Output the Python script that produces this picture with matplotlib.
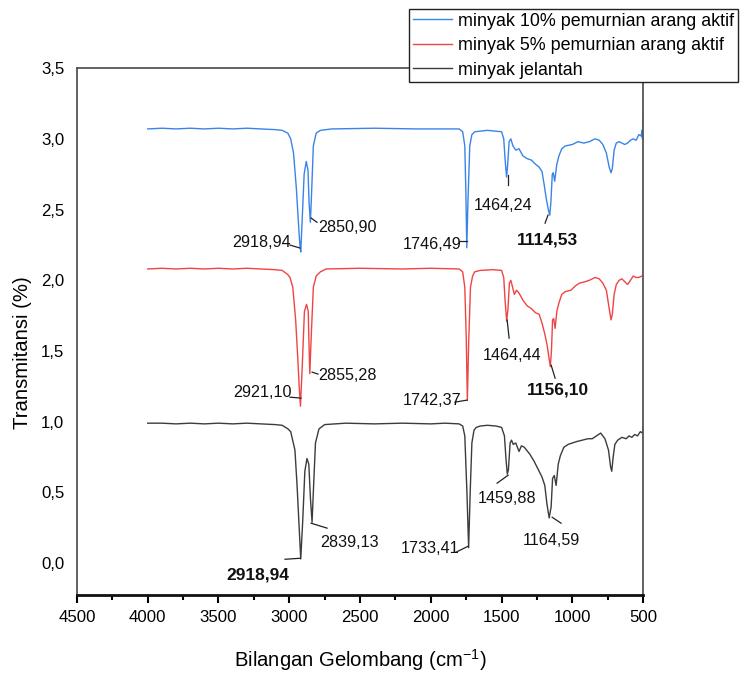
import matplotlib
matplotlib.use("Agg")
import matplotlib.pyplot as plt
from matplotlib import font_manager
from matplotlib.ticker import MultipleLocator, FuncFormatter

# pick a narrow Arial-like font if present
names = {f.name for f in font_manager.fontManager.ttflist}
if "Liberation Sans Narrow" in names:
    FONT = "Liberation Sans Narrow"
    k = 1.0
else:
    FONT = "Liberation Sans"
    k = 0.86
plt.rcParams["font.family"] = [FONT, "DejaVu Sans"]
plt.rcParams["mathtext.fontset"] = "custom"
plt.rcParams["mathtext.rm"] = FONT

# spectra (wavenumber cm-1, transmitance offset)
wn_jelantah = [4000, 3900, 3800, 3700, 3600, 3500, 3400, 3300, 3200, 3100, 3050, 3010,
               2990, 2960, 2945, 2930, 2919, 2905, 2890, 2875, 2862, 2850, 2839, 2828,
               2815, 2790, 2750, 2600, 2400, 2200, 2000, 1900, 1800, 1775, 1760, 1745,
               1733, 1722, 1710, 1695, 1680, 1650, 1600, 1540, 1500, 1480, 1470, 1460,
               1452, 1440, 1430, 1418, 1400, 1377, 1360, 1340, 1300, 1270, 1240, 1215,
               1195, 1180, 1164, 1150, 1140, 1128, 1115, 1100, 1085, 1060, 1030, 1000,
               970, 930, 890, 860, 830, 800, 770, 745, 730, 722, 712, 700, 680, 650,
               620, 600, 580, 560, 540, 520, 505, 500]
t_jelantah = [0.99, 0.99, 0.985, 0.99, 0.985, 0.99, 0.985, 0.99, 0.985, 0.98, 0.975, 0.95,
              0.93, 0.80, 0.55, 0.25, 0.03, 0.30, 0.65, 0.74, 0.70, 0.45, 0.29, 0.55,
              0.85, 0.95, 0.98, 0.99, 0.985, 0.99, 0.985, 0.99, 0.985, 0.97, 0.90, 0.50,
              0.11, 0.50, 0.85, 0.94, 0.96, 0.97, 0.975, 0.97, 0.96, 0.90, 0.75, 0.63,
              0.66, 0.85, 0.87, 0.84, 0.85, 0.79, 0.83, 0.82, 0.77, 0.72, 0.66, 0.61,
              0.55, 0.42, 0.32, 0.40, 0.60, 0.62, 0.55, 0.70, 0.76, 0.82, 0.84, 0.85,
              0.86, 0.87, 0.88, 0.88, 0.90, 0.92, 0.88, 0.80, 0.68, 0.65, 0.75, 0.84,
              0.87, 0.89, 0.88, 0.90, 0.89, 0.91, 0.90, 0.93, 0.92, 0.97]

wn_5 = [4000, 3900, 3800, 3700, 3600, 3500, 3400, 3300, 3200, 3100, 3050, 3010, 2995,
        2975, 2955, 2940, 2930, 2921, 2908, 2893, 2878, 2866, 2862, 2855, 2845, 2830,
        2810, 2780, 2740, 2500, 2200, 2000, 1800, 1775, 1760, 1750, 1742, 1733, 1720,
        1705, 1690, 1650, 1560, 1500, 1485, 1475, 1464, 1455, 1445, 1435, 1422, 1410,
        1395, 1377, 1350, 1320, 1290, 1260, 1235, 1215, 1195, 1180, 1165, 1156, 1148,
        1140, 1132, 1122, 1110, 1095, 1075, 1050, 1010, 980, 950, 910, 880, 840, 810,
        785, 760, 740, 727, 718, 705, 690, 670, 650, 630, 610, 590, 570, 550, 530, 510,
        500]
t_5 = [2.08, 2.085, 2.08, 2.085, 2.08, 2.085, 2.08, 2.085, 2.08, 2.075, 2.07, 2.04, 2.02,
       1.95, 1.72, 1.45, 1.25, 1.11, 1.40, 1.78, 1.83, 1.78, 1.60, 1.34, 1.60, 1.95,
       2.03, 2.06, 2.08, 2.085, 2.08, 2.085, 2.08, 2.06, 1.95, 1.60, 1.15, 1.55, 1.95,
       2.03, 2.06, 2.07, 2.075, 2.07, 2.02, 1.85, 1.71, 1.80, 1.98, 2.00, 1.95, 1.90,
       1.93, 1.91, 1.86, 1.82, 1.80, 1.77, 1.76, 1.70, 1.62, 1.55, 1.45, 1.39, 1.50,
       1.72, 1.73, 1.66, 1.78, 1.84, 1.90, 1.92, 1.93, 1.96, 1.98, 1.99, 2.00, 2.02, 2.01,
       1.98, 1.93, 1.80, 1.72, 1.76, 1.90, 1.97, 2.00, 2.01, 1.99, 1.97, 2.00, 2.03, 2.02,
       2.02, 2.03, 2.03]

wn_10 = [4000, 3900, 3800, 3700, 3600, 3500, 3400, 3300, 3200, 3100, 3050, 3010, 2990,
         2970, 2950, 2935, 2925, 2919, 2910, 2895, 2880, 2868, 2860, 2851, 2843, 2830,
         2810, 2780, 2700, 2400, 2100, 1800, 1775, 1760, 1752, 1746, 1738, 1725, 1710,
         1690, 1600, 1500, 1485, 1475, 1465, 1457, 1447, 1435, 1420, 1400, 1377, 1350,
         1320, 1290, 1260, 1235, 1215, 1200, 1185, 1170, 1160, 1152, 1142, 1135, 1125,
         1110, 1095, 1075, 1050, 1000, 960, 920, 880, 840, 810, 785, 760, 740, 727, 718,
         705, 690, 670, 650, 630, 610, 590, 570, 550, 530, 515, 508, 505, 502, 500]
t_10 = [3.07, 3.075, 3.07, 3.075, 3.07, 3.075, 3.07, 3.075, 3.07, 3.065, 3.06, 3.04, 3.00,
        2.90, 2.65, 2.40, 2.25, 2.20, 2.40, 2.75, 2.84, 2.78, 2.55, 2.41, 2.60, 2.95,
        3.04, 3.06, 3.07, 3.075, 3.07, 3.07, 3.05, 2.95, 2.60, 2.23, 2.55, 2.95, 3.03,
        3.05, 3.06, 3.05, 3.00, 2.85, 2.73, 2.82, 2.98, 3.00, 2.95, 2.92, 2.93, 2.88,
        2.86, 2.85, 2.82, 2.80, 2.77, 2.68, 2.58, 2.50, 2.46, 2.55, 2.75, 2.76, 2.70,
        2.82, 2.88, 2.93, 2.95, 2.96, 2.98, 2.97, 2.98, 3.00, 2.99, 2.96, 2.90, 2.80,
        2.76, 2.79, 2.92, 2.97, 2.98, 2.97, 2.96, 2.97, 2.99, 3.00, 2.99, 3.03, 3.02,
        3.06, 3.00, 3.10, 3.17]

series_labels = ["minyak 10% pemurnian arang aktif", "minyak 5% pemurnian arang aktif",
                 "minyak jelantah"]
colors = ["#3a84e8", "#f04444", "#3c3c3c"]

# peak labels: (text, text position, leader start, leader end, big)
peaks = [
    ("2918,94", (3193, 2.27), (2995, 2.249), (2924, 2.228), False),
    ("2850,90", (2592, 2.376), (2846, 2.44), (2804, 2.41), False),
    ("1746,49", (1991, 2.256), (1793, 2.277), (1744, 2.277), False),
    ("1464,24", (1489, 2.53), (1454, 2.744), (1454, 2.673), False),
    ("1114,53", (1178, 2.284), (1193, 2.404), (1172, 2.461), True),
    ("2921,10", (3186, 1.209), (2995, 1.174), (2917, 1.167), False),
    ("2855,28", (2592, 1.33), (2839, 1.351), (2797, 1.337), False),
    ("1742,37", (1991, 1.153), (1829, 1.139), (1744, 1.153), False),
    ("1464,44", (1426, 1.471), (1461, 1.719), (1447, 1.591), False),
    ("1156,10", (1101, 1.223), (1150, 1.40), (1122, 1.308), True),
    ("2918,94", (3221, -0.085), (3030, 0.028), (2924, 0.035), True),
    ("2839,13", (2571, 0.149), (2846, 0.283), (2733, 0.248), False),
    ("1733,41", (2005, 0.106), (1822, 0.078), (1737, 0.12), False),
    ("1459,88", (1461, 0.46), (1532, 0.566), (1454, 0.622), False),
    ("1164,59", (1150, 0.163), (1143, 0.325), (1080, 0.283), False),
]

fig = plt.figure(figsize=(7.47, 6.81), dpi=100)
ax = fig.add_axes([0.103, 0.126, 0.758, 0.774])

lines = []
for wn, t, c in zip([wn_10, wn_5, wn_jelantah], [t_10, t_5, t_jelantah], colors):
    ln, = ax.plot(wn, t, color=c, lw=1.0)
    lines.append(ln)

for txt, pos, a, b, big in peaks:
    ax.plot([a[0], b[0]], [a[1], b[1]], color="#222222", lw=0.9)
    ax.text(pos[0], pos[1], txt, ha="center", va="center",
            fontsize=(14.5 if big else 13.5) * k, color="#111111",
            fontweight="bold" if big else "normal")

ax.set_xlim(4500, 500)
ax.set_ylim(-0.226, 3.5)
ax.xaxis.set_major_locator(MultipleLocator(500))
ax.xaxis.set_minor_locator(MultipleLocator(250))
ax.yaxis.set_major_locator(MultipleLocator(0.5))
ax.yaxis.set_major_formatter(FuncFormatter(lambda v, p: f"{v:.1f}".replace(".", ",")))

ax.tick_params(axis="x", which="major", direction="out", length=6, width=1.5,
               labelsize=14 * k, pad=5, top=False)
ax.tick_params(axis="x", which="minor", direction="out", length=3.5, width=1.5, top=False)
ax.tick_params(axis="y", length=0, labelsize=14 * k, pad=9)

for s in ["left", "top", "right"]:
    ax.spines[s].set_color("#555555")
    ax.spines[s].set_linewidth(1.3)
ax.spines["bottom"].set_color("#111111")
ax.spines["bottom"].set_linewidth(2)

ax.set_xlabel("Bilangan Gelombang (cm$^{-1}$)", fontsize=17 * k)
ax.set_ylabel("Transmitansi (%)", fontsize=17 * k)
ax.xaxis.set_label_coords(0.5, -0.098)
ax.yaxis.set_label_coords(-0.08, 0.46)

leg = ax.legend(lines, series_labels, loc="upper right",
                bbox_to_anchor=(738 / 747, 1 - 9 / 681), bbox_transform=fig.transFigure,
                borderaxespad=0, fancybox=False, framealpha=1, edgecolor="#222222",
                fontsize=15 * k, handlelength=2.2, handletextpad=0.35, labelspacing=0.42,
                borderpad=0.2)
leg.get_frame().set_linewidth(1.0)

fig.savefig("out.png", dpi=100)
